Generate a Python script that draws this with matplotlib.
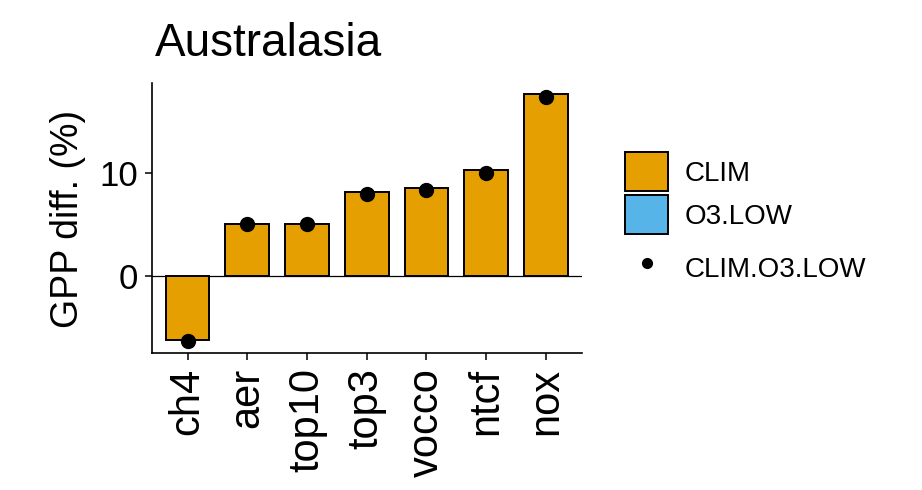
import matplotlib
matplotlib.use("Agg")
import matplotlib.pyplot as plt
from matplotlib.patches import Patch
from matplotlib.lines import Line2D

plt.rcParams["font.family"] = ["Liberation Sans", "DejaVu Sans"]

# GPP differences for the Australasia region
experimenty = ["ch4", "aer", "top10", "top3", "vocco", "ntcf", "nox"]
clim = [-6.2, 5.05, 5.05, 8.1, 8.5, 10.3, 17.6]
clim_o3_low = [-6.3, 5.0, 5.0, 7.9, 8.3, 10.0, 17.3]

kolor_clim = "#E69F00"
kolor_o3 = "#56B4E9"

fig = plt.figure(figsize=(9.22, 4.9), dpi=100)
ax = fig.add_axes([0.1645, 0.2802, 0.4665, 0.5504])

x = list(range(len(experimenty)))
ax.axhline(0, color="black", linewidth=0.9, zorder=1)
ax.bar(x, clim, width=0.73, color=kolor_clim, edgecolor="black",
       linewidth=1.4, zorder=2)
ax.plot(x, clim_o3_low, "o", color="black", markersize=10, zorder=3)

ax.set_xlim(-0.6, 6.6)
ax.set_ylim(-7.45, 18.7)
ax.set_yticks([0, 10])
ax.set_xticks(x)
ax.set_xticklabels(experimenty, rotation=90, fontsize=30)
ax.tick_params(axis="y", labelsize=25, length=5, width=1.1, pad=5)
ax.tick_params(axis="x", length=5, width=1.1, pad=6)

for s in ["top", "right"]:
    ax.spines[s].set_visible(False)
for s in ["left", "bottom"]:
    ax.spines[s].set_linewidth(1.2)

fig.text(155 / 922, 1 - 56 / 490, "Australasia", fontsize=33,
         ha="left", va="baseline")
fig.text(68 / 922, 1 - 219 / 490, "GPP diff. (%)", fontsize=27,
         rotation=90, ha="center", va="center")

# legenda: dwa prostokaty (slupki) i osobno kropka
opcje = dict(frameon=False, fontsize=20, handlelength=1.55, handleheight=1.79,
             labelspacing=0.14, handletextpad=0.61, borderpad=0,
             borderaxespad=0)
fig.legend(
    [Patch(facecolor=kolor_clim, edgecolor="black", linewidth=1.4),
     Patch(facecolor=kolor_o3, edgecolor="black", linewidth=1.4)],
    ["CLIM", "O3.LOW"],
    loc="upper left", bbox_to_anchor=(625 / 922, 1 - 152 / 490), **opcje)
fig.legend(
    [Line2D([], [], marker="o", color="black", linestyle="none", markersize=7)],
    ["CLIM.O3.LOW"],
    loc="center left", bbox_to_anchor=(625 / 922, 1 - 268 / 490), **opcje)

fig.savefig("out.png", dpi=100)
